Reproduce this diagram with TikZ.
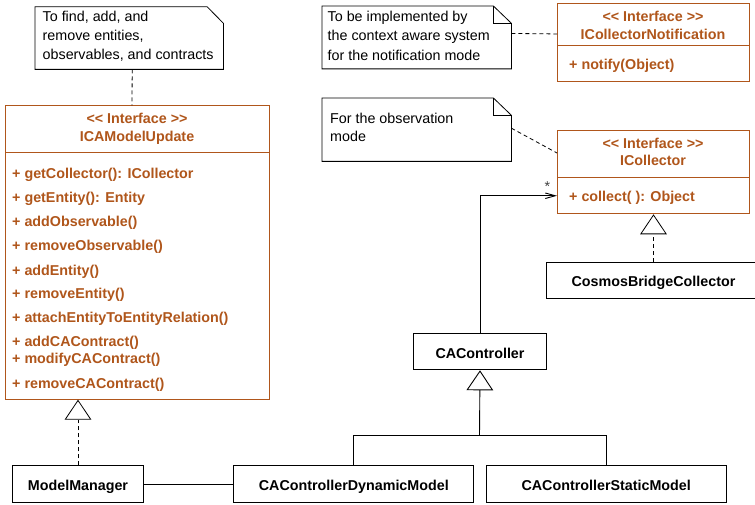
\documentclass[tikz,border=0pt]{standalone}
\usepackage{fontspec}
\setmainfont{Liberation Sans}
\usetikzlibrary{arrows.meta}
\definecolor{iface}{HTML}{B0561B}
\newcommand{\ifhead}{<\kern0pt< Interface >\kern0pt>}
\begin{document}
\begin{tikzpicture}[x=1pt,y=-1pt,
  font=\fontsize{14.3}{17}\selectfont,
  boxb/.style={draw=black, line width=1pt, anchor=north west, inner sep=0pt, fill=white},
  ibox/.style={boxb, draw=iface},
  cls/.style={boxb, font=\fontsize{14.3}{17}\selectfont\bfseries, text height=13pt, text depth=0pt},
  hd/.style={font=\fontsize{14.3}{17}\selectfont\bfseries, text=iface, anchor=base, inner sep=0pt},
  meth/.style={font=\fontsize{14.3}{17}\selectfont\bfseries, text=iface, anchor=base west, inner sep=0pt},
  ntxt/.style={anchor=base west, inner sep=0pt},
  notebox/.style={anchor=north west, inner sep=0pt},
  noteline/.style={line width=0.8pt, fill=white},
  ndash/.style={dash pattern=on 4pt off 3pt, line width=0.8pt},
  gen/.style={-{Triangle[open,length=20pt,width=26.7pt]}, line width=0.9pt},
  assoc/.style={-{Straight Barb[length=10pt,width=5.5pt]}, line width=0.9pt},
]
\useasboundingbox (0,0) rectangle (755,505);

% ---------- Note 1
\node[notebox, minimum width=188pt, minimum height=62.3pt] (n1) at (35,6.7) {};
\draw[noteline] (n1.north west) -- ([xshift=-16.3pt]n1.north east) -- ([yshift=-16.6pt]n1.north east) -- (n1.south east) -- (n1.south west) -- cycle;
\node[ntxt] (n1a) at (42.5,21.7) {To find, add, and};
\node[ntxt] (n1b) at (42.5,41) {remove entities,};
\node[ntxt] (n1c) at (42.5,60) {observables, and contracts};

% ---------- Note 2
\node[notebox, minimum width=189pt, minimum height=62.5pt] (n2) at (322,6) {};
\draw[noteline] (n2.north west) -- ([xshift=-18pt]n2.north east) -- ([yshift=-17.3pt]n2.north east) -- (n2.south east) -- (n2.south west) -- cycle;
\draw[line width=0.8pt] ([xshift=-18pt]n2.north east) |- ([yshift=-17.3pt]n2.north east);
\node[ntxt] (n2a) at (327.5,21.7) {To be implemented by};
\node[ntxt] (n2b) at (327.5,40.5) {the context aware system};
\node[ntxt] (n2c) at (327.5,60.5) {for the notification mode};

% ---------- Note 3
\node[notebox, minimum width=189pt, minimum height=63pt] (n3) at (322,98) {};
\draw[noteline] (n3.north west) -- ([xshift=-18pt]n3.north east) -- ([yshift=-17.3pt]n3.north east) -- (n3.south east) -- (n3.south west) -- cycle;
\draw[line width=0.8pt] ([xshift=-18pt]n3.north east) |- ([yshift=-17.3pt]n3.north east);
\node[ntxt] (n3a) at (330,123.3) {For the observation};
\node[ntxt] (n3b) at (330,141.5) {mode};

% ---------- ICAModelUpdate
\node[ibox, minimum width=264pt, minimum height=293.4pt] (icam) at (5,105.3) {};
\draw[iface, line width=1pt] (icam.west |- 0,152.7) -- (icam.east |- 0,152.7);
\node[hd] (icamst) at (137,124) {\ifhead};
\node[hd] (icamnm) at (137,142) {ICAModelUpdate};
\node[meth] (m1) at (12,178.3) {+ getCollector(): ICollector};
\node[meth] (m2) at (12,202.3) {+ getEntity(): Entity};
\node[meth] (m3) at (12,226.7) {+ addObservable()};
\node[meth] (m4) at (12,250.7) {+ removeObservable()};
\node[meth] (m5) at (12,275) {+ addEntity()};
\node[meth] (m6) at (12,298) {+ removeEntity()};
\node[meth] (m7) at (12,322.7) {+ attachEntityToEntityRelation()};
\node[meth] (m8) at (12,346) {+ addCAContract()};
\node[meth] (m9) at (12,363) {+ modifyCAContract()};
\node[meth] (m10) at (12,388) {+ removeCAContract()};

% ---------- ICollectorNotification
\node[ibox, minimum width=192pt, minimum height=77.7pt] (icn) at (557,3.3) {};
\draw[iface, line width=1pt] (icn.west |- 0,45.7) -- (icn.east |- 0,45.7);
\node[hd] (icnst) at (653,21.7) {\ifhead};
\node[hd] (icnnm) at (653,40) {ICollectorNotification};
\node[meth] (icnm1) at (569,70) {+ notify(Object)};

% ---------- ICollector
\node[ibox, minimum width=192pt, minimum height=83.3pt] (icol) at (557,130) {};
\draw[iface, line width=1pt] (icol.west |- 0,178) -- (icol.east |- 0,178);
\node[hd] (icolst) at (653,148.3) {\ifhead};
\node[hd] (icolnm) at (653,166) {ICollector};
\node[meth] (icolm1) at (569,201.7) {+ collect( ): Object};

% ---------- Classes
\node[cls, minimum width=214pt, minimum height=36pt] (cbc) at (546,261.7) {CosmosBridgeCollector};
\node[cls, minimum width=132.4pt, minimum height=36pt] (cac) at (413.3,333.3) {CAController};
\node[cls, minimum width=131.6pt, minimum height=36.4pt] (mm) at (11.7,465.3) {ModelManager};
\node[cls, minimum width=240pt, minimum height=36.4pt] (dyn) at (233.3,465.3) {CAControllerDynamicModel};
\node[cls, minimum width=240pt, minimum height=36.4pt] (stat) at (485.7,465.3) {CAControllerStaticModel};

% ---------- Connectors
\draw[ndash] ([xshift=3pt]n1.south) -- ([xshift=-5.5pt]icam.north);
\draw[ndash] ([yshift=4pt]n2.east) -- ([yshift=8.7pt]icn.west);
\draw[ndash] ([yshift=1.5pt]n3.east) -- ([yshift=-23pt]icol.north west);

\draw[gen, ndash] (mm.north) -- (mm.north |- icam.south);
\draw[gen, ndash] (cbc.north) -- (icol.south);
\draw[line width=0.9pt] (mm.east) -- (dyn.west);

\coordinate (jn) at (479.5,435.7);
\draw[line width=0.9pt] (dyn.north) |- (jn) -| (stat.north);
\draw[gen] (jn) -- (cac.south);

\draw[assoc] (cac.north) |- ([yshift=-23.6pt]icol.west);
\node[font=\fontsize{14.3}{15}\selectfont, text=black!75, inner sep=0pt] (star) at (547.3,186.5) {*};
\end{tikzpicture}
\end{document}
